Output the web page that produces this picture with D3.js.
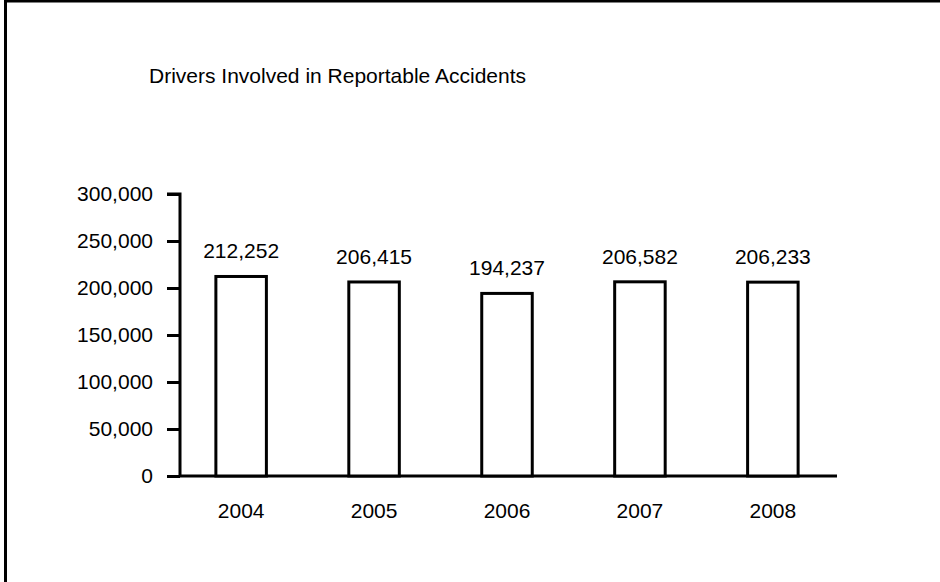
<!DOCTYPE html>
<html>
<head>
<meta charset="utf-8">
<script src="https://cdn.jsdelivr.net/npm/d3@7"></script>
<style>
  html, body { margin: 0; padding: 0; background: #fff; }
  svg { display: block; font-family: "Liberation Sans", Arial, sans-serif; }
</style>
</head>
<body>
<svg id="chart" width="940" height="582"></svg>
<script>
// Drivers involved in reportable accidents, by year
const years = ["2004", "2005", "2006", "2007", "2008"];
const drivers = [212252, 206415, 194237, 206582, 206233];
const yTicks = [0, 50000, 100000, 150000, 200000, 250000, 300000];

const svg = d3.select("#chart");
const W = 940, H = 582;
const FONT = "Liberation Sans, Arial, sans-serif";
const FS = 21;
const AX = 180; // x position of the value axis

// outer frame (only left and top edges fall inside the canvas)
svg.append("path")
  .attr("d", `M5.5,${H} L5.5,1 L${W},1`)
  .attr("fill", "none")
  .attr("stroke", "#000")
  .attr("stroke-width", 3);

svg.append("text")
  .attr("x", 149)
  .attr("y", 83)
  .attr("font-size", 21)
  .attr("fill", "#000")
  .text("Drivers Involved in Reportable Accidents");

const x = d3.scaleBand()
  .domain(years)
  .range([176, 838])
  .paddingInner(0.62)
  .paddingOuter(0.3);

const y = d3.scaleLinear()
  .domain([0, 300000])
  .range([476, 194]);

const fmt = d3.format(",");

// y axis
const yAxis = svg.append("g")
  .attr("transform", `translate(${AX},0)`)
  .call(d3.axisLeft(y).tickValues(yTicks).tickFormat(fmt).tickSize(13).tickPadding(14));
yAxis.select(".domain").attr("stroke-width", 3).attr("d", `M-13,${y(300000)}H0V${y(0)}`);
yAxis.selectAll(".tick line").attr("stroke-width", 3);
yAxis.selectAll(".tick text").attr("font-size", FS).attr("fill", "#000").attr("font-family", FONT);

// x axis
const xAxis = svg.append("g")
  .attr("transform", `translate(0,${y(0)})`)
  .call(d3.axisBottom(x).tickSize(0).tickPadding(27));
xAxis.select(".domain").attr("stroke-width", 3).attr("d", `M${AX},0H837`);
xAxis.selectAll(".tick text").attr("font-size", FS).attr("fill", "#000").attr("font-family", FONT);

// bars
svg.append("g").selectAll("rect")
  .data(drivers)
  .join("rect")
  .attr("x", (d, i) => x(years[i]))
  .attr("y", d => y(d))
  .attr("width", x.bandwidth())
  .attr("height", d => y(0) - y(d))
  .attr("fill", "#fff")
  .attr("stroke", "#000")
  .attr("stroke-width", 3);

// value labels
svg.append("g").selectAll("text")
  .data(drivers)
  .join("text")
  .attr("x", (d, i) => x(years[i]) + x.bandwidth() / 2)
  .attr("y", d => y(d) - 18)
  .attr("text-anchor", "middle")
  .attr("font-size", FS)
  .attr("fill", "#000")
  .text(d => fmt(d));
</script>
</body>
</html>
